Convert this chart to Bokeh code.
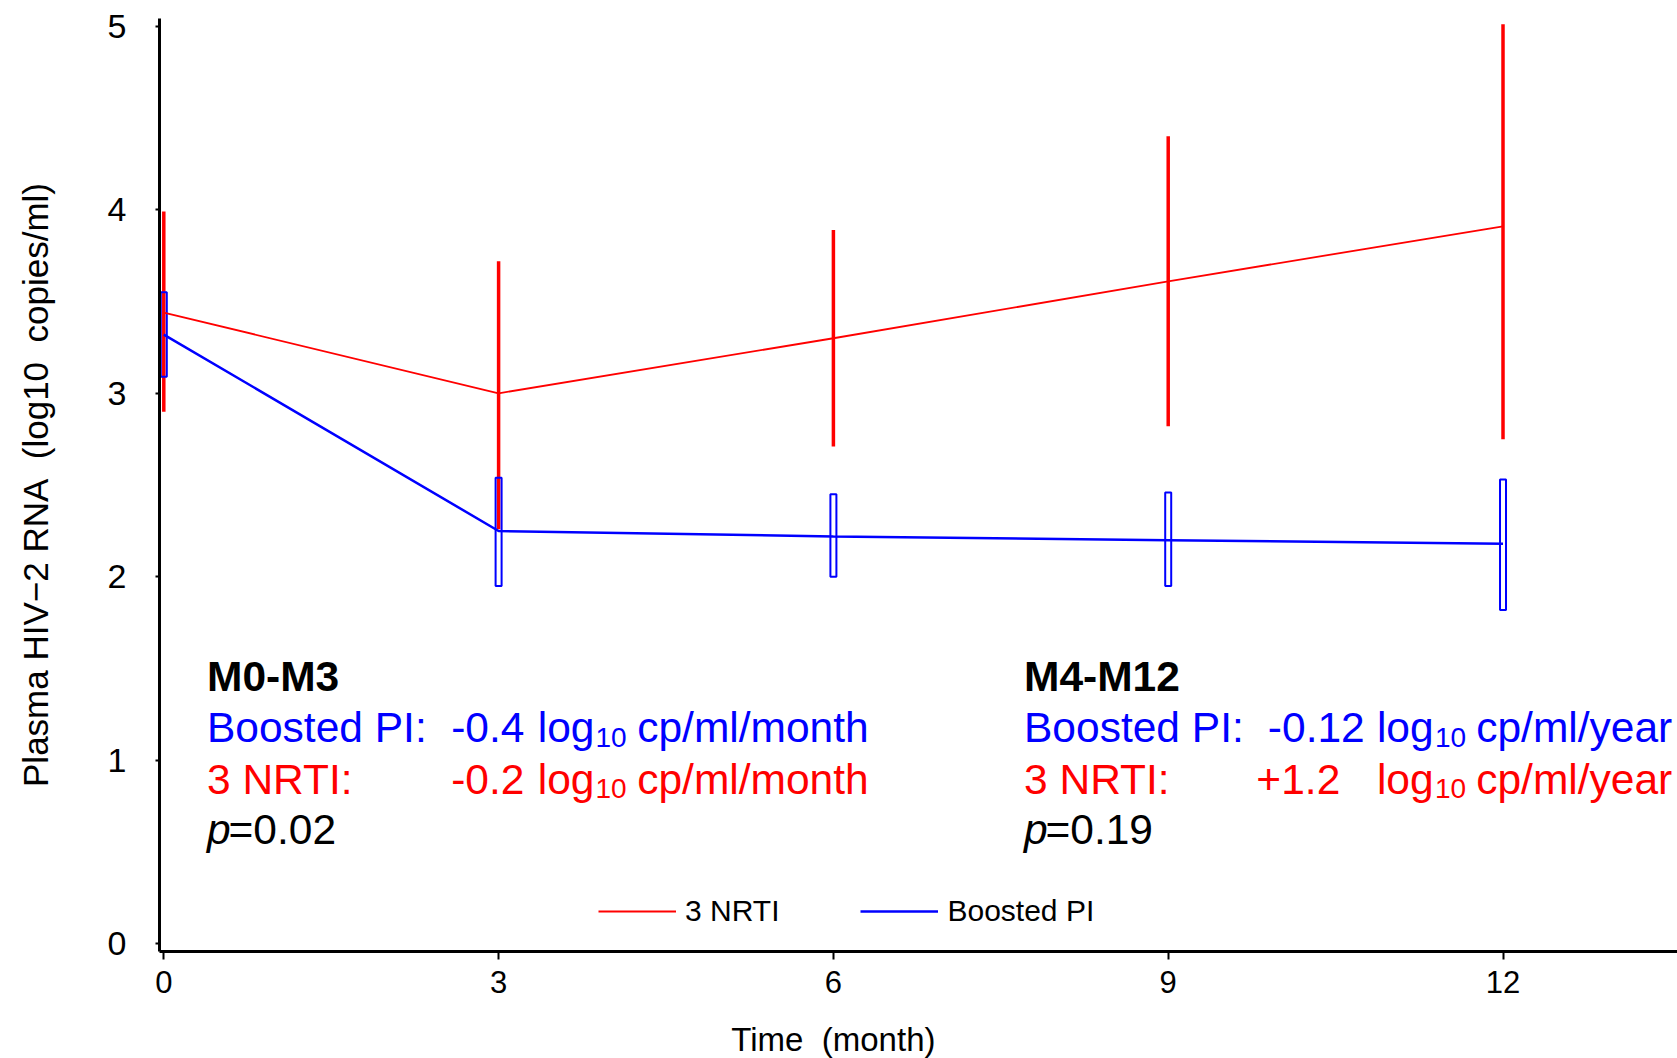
from bokeh.plotting import figure
from bokeh.layouts import column
from bokeh.models import ColumnDataSource, Range1d, FixedTicker, Legend, LegendItem
from bokeh.core.properties import value
from bokeh.embed import file_html
from bokeh.resources import INLINE

# ---------------- data ----------------
months = [0, 3, 6, 9, 12]
nrti_mean = [3.44, 3.00, 3.30, 3.61, 3.91]
nrti_low = [2.90, 2.26, 2.71, 2.82, 2.75]
nrti_high = [3.99, 3.72, 3.89, 4.40, 5.01]
pi_mean = [3.32, 2.25, 2.22, 2.20, 2.18]
pi_low = [3.09, 1.95, 2.00, 1.95, 1.82]
pi_high = [3.55, 2.54, 2.45, 2.46, 2.53]
x_ticks = [0, 3, 6, 9, 12]
y_ticks = [0, 1, 2, 3, 4, 5]

series_names = ["3 NRTI", "Boosted PI"]
periods = ["M0-M3", "M4-M12"]
group_labels = ["Boosted PI:", "3 NRTI:"]
pi_slope = ["-0.4", "-0.12"]
nrti_slope = ["-0.2", "+1.2"]
slope_units = ["cp/ml/month", "cp/ml/year"]
p_values = ["0.02", "0.19"]
x_title = "Time\u00a0 (month)"
y_title = "Plasma HIV\u22122 RNA\u00a0 (log10\u00a0 copies/ml)"

# ---------------- style ----------------
FONT = "Liberation Sans"
RED = "#ff0000"
BLUE = "#0000ff"
W = 1677
MAIN_H = 1000
TITLE_H = 58

x_rng = Range1d(-0.0385, 13.5635)

p = figure(width=W, height=MAIN_H, output_backend="svg", toolbar_location=None,
           x_range=x_rng, y_range=Range1d(-0.041, 5.042),
           min_border_left=159, min_border_right=0, min_border_top=18,
           min_border_bottom=49)
p.outline_line_color = None
p.grid.visible = False
p.background_fill_color = "white"
p.border_fill_color = "white"

# error bars / boxes
box_src = ColumnDataSource(dict(
    x=months,
    yc=[(lo + hi) / 2 for lo, hi in zip(pi_low, pi_high)],
    h=[hi - lo for lo, hi in zip(pi_low, pi_high)],
))
p.segment(x0=months, y0=nrti_low, x1=months, y1=nrti_high,
          line_color=RED, line_width=3.5, line_cap="butt")
p.rect(x="x", y="yc", width=6, height="h", width_units="screen",
       source=box_src, fill_color=None, line_color=BLUE, line_width=2)

r_blue = p.line(months, pi_mean, line_color=BLUE, line_width=2.5)
r_red = p.line(months, nrti_mean, line_color=RED, line_width=1.8)

# axes
p.xaxis.ticker = FixedTicker(ticks=x_ticks)
p.yaxis.ticker = FixedTicker(ticks=y_ticks)
p.yaxis.axis_label = y_title
for ax in (p.xaxis[0], p.yaxis[0]):
    ax.axis_line_width = 3
    ax.axis_line_color = "black"
    ax.major_tick_line_width = 2
    ax.major_tick_line_color = "black"
    ax.major_tick_in = 0
    ax.minor_tick_line_color = None
    ax.major_label_text_font = FONT
    ax.major_label_text_color = "black"
    ax.axis_label_text_font = FONT
    ax.axis_label_text_font_style = "normal"
    ax.axis_label_text_color = "black"
p.xaxis.major_label_text_font_size = "31px"
p.yaxis.major_label_text_font_size = "34px"
p.yaxis.axis_label_text_font_size = "35px"
p.xaxis.major_tick_out = 8
p.yaxis.major_tick_out = 4
p.xaxis.major_label_standoff = 11
p.yaxis.major_label_standoff = 29
p.yaxis.axis_label_standoff = 50

# legend
legend = Legend(items=[LegendItem(label=series_names[0], renderers=[r_red]),
                       LegendItem(label=series_names[1], renderers=[r_blue])],
                orientation="horizontal", location=(439, 22))
legend.border_line_color = None
legend.background_fill_alpha = 0
legend.padding = 0
legend.margin = 0
legend.spacing = 81
legend.glyph_width = 78
legend.glyph_height = 36
legend.label_height = 36
legend.label_standoff = 9
legend.label_text_font = FONT
legend.label_text_font_size = "30px"
legend.label_text_color = "black"
p.add_layout(legend)

# ---------------- annotations ----------------
ANN = "42.5px"
SUB = "28px"
row_y = [1.458, 1.178, 0.898, 0.624]   # header, boosted, nrti, p
sub_drop = 9.5 / 183.5

cols = [
    dict(x=0.387, eq=0.58, v_pi=2.575, v_nrti=2.575, log=3.351, sub=3.868, unit=4.242),
    dict(x=7.708, eq=7.90, v_pi=9.893, v_nrti=9.790, log=10.87, sub=11.39, unit=11.76),
]


def txt(fig, x, y, s, color="black", size=ANN, style="normal", align="left"):
    fig.text(x=[x], y=[y], text=[s], text_color=color, text_font=value(FONT),
             text_font_size=size, text_font_style=style,
             text_align=align, text_baseline="alphabetic")


for i, c in enumerate(cols):
    txt(p, c["x"], row_y[0], periods[i], style="bold")
    txt(p, c["x"], row_y[1], group_labels[0], BLUE)
    txt(p, c["x"], row_y[2], group_labels[1], RED)
    txt(p, c["x"], row_y[3], "p", style="italic")
    txt(p, c["eq"], row_y[3], "=" + p_values[i])
    for y, col, v, vx in ((row_y[1], BLUE, pi_slope[i], c["v_pi"]),
                          (row_y[2], RED, nrti_slope[i], c["v_nrti"])):
        txt(p, vx, y, v, col)
        txt(p, c["log"], y, "log", col)
        txt(p, c["sub"], y - sub_drop, "10", col, size=SUB)
        txt(p, c["unit"], y, slope_units[i], col)

# ---------------- x-axis title strip (centred on the tick span) ----------------
pt = figure(width=W, height=TITLE_H, output_backend="svg", toolbar_location=None,
            x_range=x_rng, y_range=Range1d(0, 1),
            x_axis_location=None, y_axis_location=None,
            min_border_left=159, min_border_right=0, min_border_top=0,
            min_border_bottom=0)
pt.outline_line_color = None
pt.grid.visible = False
pt.background_fill_color = "white"
pt.border_fill_color = "white"
txt(pt, 6, 0.33, x_title, size="33px", align="center")

layout = column(p, pt, spacing=0)
open("out.html", "w").write(file_html(layout, INLINE))
